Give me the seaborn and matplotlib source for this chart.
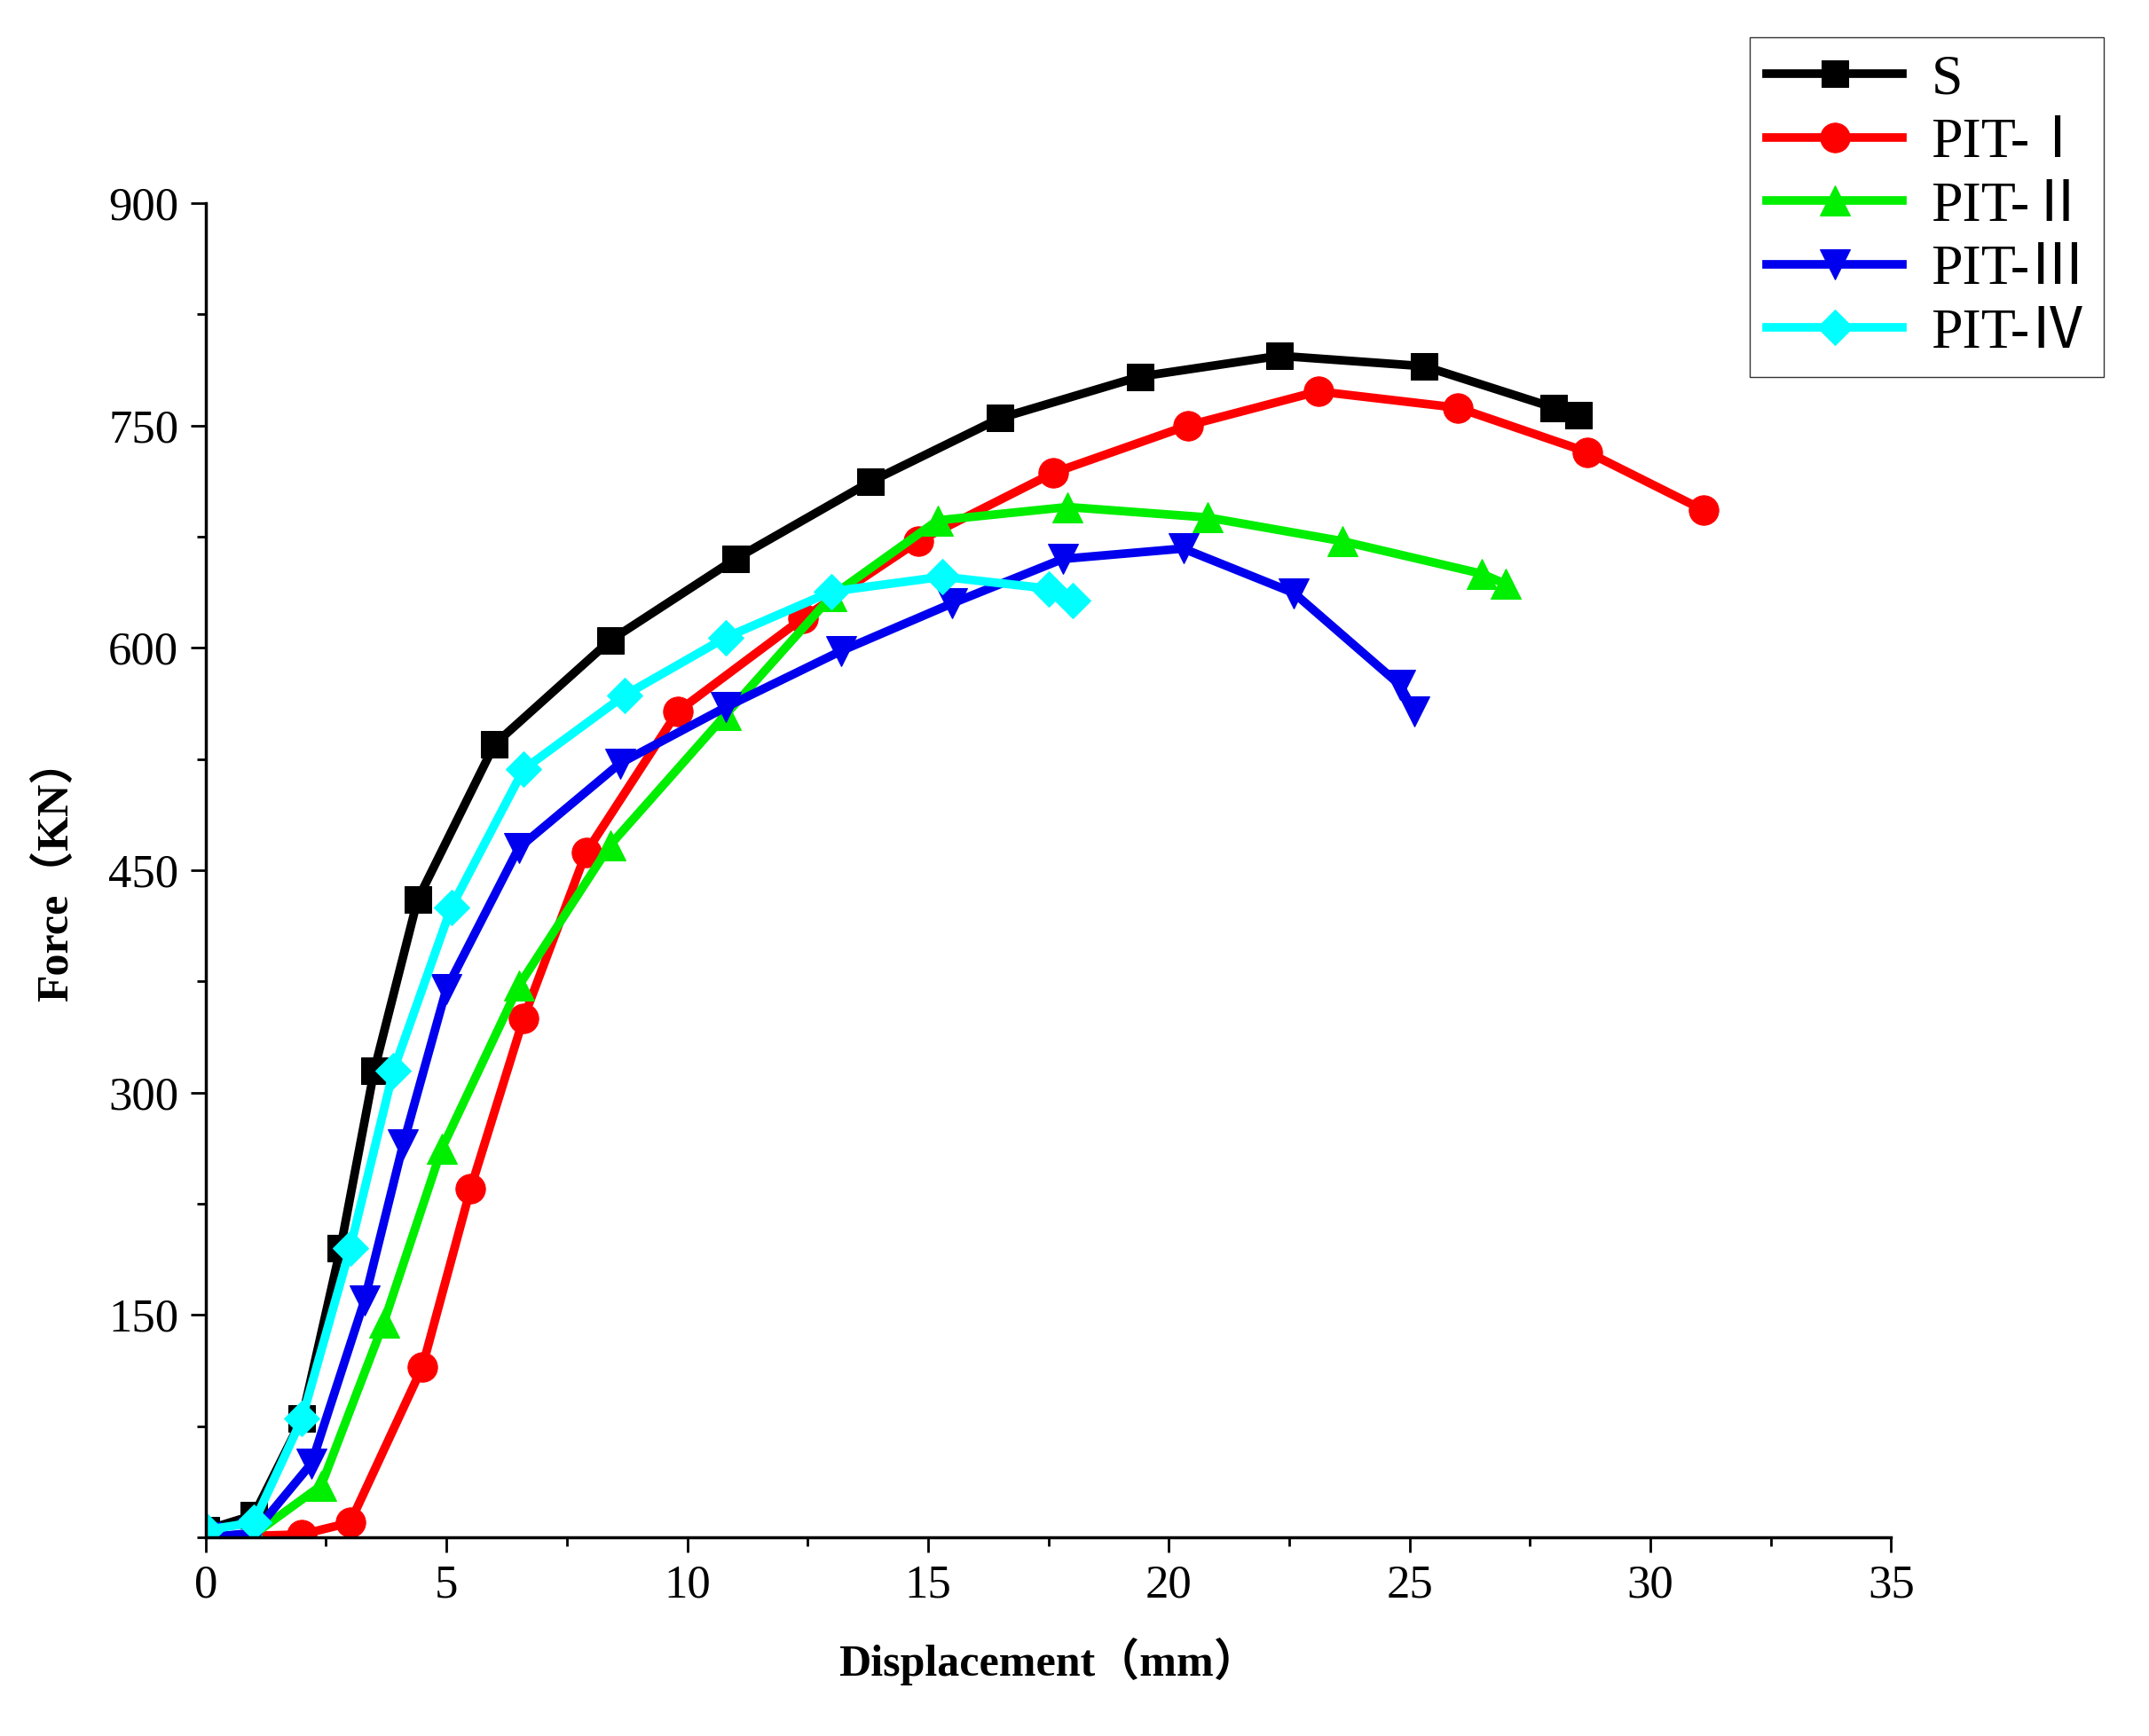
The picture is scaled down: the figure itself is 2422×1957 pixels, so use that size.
import matplotlib
matplotlib.use("Agg")
import matplotlib.pyplot as plt
import seaborn as sns
import pandas as pd
from matplotlib.ticker import MultipleLocator

plt.rcParams["font.family"] = ["Liberation Serif", "Noto Sans CJK SC", "Noto Sans CJK JP",
                               "DejaVu Sans"]

s_x = [0, 1.0, 2.0, 2.8, 3.5, 4.4, 6.0, 8.4, 11.0, 13.8, 16.5, 19.4, 22.3, 25.3, 28.0, 28.5]
s_y = [5, 15, 80, 195, 315, 430, 535, 605, 660, 712, 755, 783, 797, 790, 762, 757]
p1_x = [0, 2.0, 3.0, 4.5, 5.5, 6.6, 7.9, 9.8, 12.4, 14.8, 17.6, 20.4, 23.1, 26.0, 28.7, 31.1]
p1_y = [0, 2, 10, 115, 235, 350, 462, 557, 620, 672, 718, 750, 773, 762, 732, 693]
p2_x = [0, 1.0, 2.4, 3.7, 4.9, 6.5, 8.4, 10.8, 13.0, 15.2, 17.9, 20.8, 23.6, 26.5, 27.0]
p2_y = [0, 2, 35, 145, 262, 372, 467, 555, 635, 686, 695, 688, 672, 650, 643]
p3_x = [0, 1.0, 2.2, 3.3, 4.1, 5.0, 6.5, 8.6, 10.8, 13.2, 15.5, 17.8, 20.3, 22.6, 24.8, 25.1]
p3_y = [0, 3, 50, 160, 265, 370, 465, 522, 560, 598, 630, 660, 667, 637, 575, 557]
p4_x = [0, 1.0, 2.0, 3.0, 3.9, 5.1, 6.6, 8.7, 10.8, 13.0, 15.3, 17.5, 18.0]
p4_y = [5, 10, 80, 195, 315, 425, 518, 568, 607, 638, 648, 640, 632]

series = [("S", s_x, s_y, "black", "s", 22),
          ("PIT-Ⅰ", p1_x, p1_y, "red", "o", 24),
          ("PIT-Ⅱ", p2_x, p2_y, "#00ee00", "^", 24),
          ("PIT-Ⅲ", p3_x, p3_y, "#0000ee", "v", 24),
          ("PIT-Ⅳ", p4_x, p4_y, "cyan", "D", 20)]

fig = plt.figure(figsize=(24.22, 19.57), dpi=100)
ax = fig.add_axes([0.0957, 0.1144, 0.7843, 0.7686])
for name, xs, ys, c, m, ms in series:
    df = pd.DataFrame({"x": xs, "y": ys})
    sns.lineplot(data=df, x="x", y="y", ax=ax, sort=False, color=c, marker=m,
                 markersize=ms, linewidth=7, markeredgecolor=c, label=name)
handles, labels = ax.get_legend_handles_labels()
if ax.get_legend() is not None:
    ax.get_legend().remove()

ax.set_xlim(0, 35)
ax.set_ylim(0, 900)
ax.xaxis.set_major_locator(MultipleLocator(5))
ax.xaxis.set_minor_locator(MultipleLocator(2.5))
ax.set_yticks([150, 300, 450, 600, 750, 900])
ax.yaxis.set_minor_locator(MultipleLocator(75))
ax.tick_params(which="major", length=12, width=2, labelsize=38, pad=10)
ax.tick_params(which="minor", length=7, width=2)
for sp in ["top", "right"]:
    ax.spines[sp].set_visible(False)
for sp in ["left", "bottom"]:
    ax.spines[sp].set_linewidth(2.5)
ax.set_xlabel("Displacement（mm）", fontsize=36, fontweight="bold", labelpad=25)
ax.set_ylabel("Force（KN）", fontsize=36, fontweight="bold", labelpad=25)

fig.legend(handles, labels, loc="upper right", bbox_to_anchor=(0.992, 0.995), fontsize=46,
           frameon=True, fancybox=False, edgecolor="black", handlelength=2.4,
           borderpad=0.3, labelspacing=0.2, handletextpad=0.5)
fig.savefig("out.png", dpi=100)
